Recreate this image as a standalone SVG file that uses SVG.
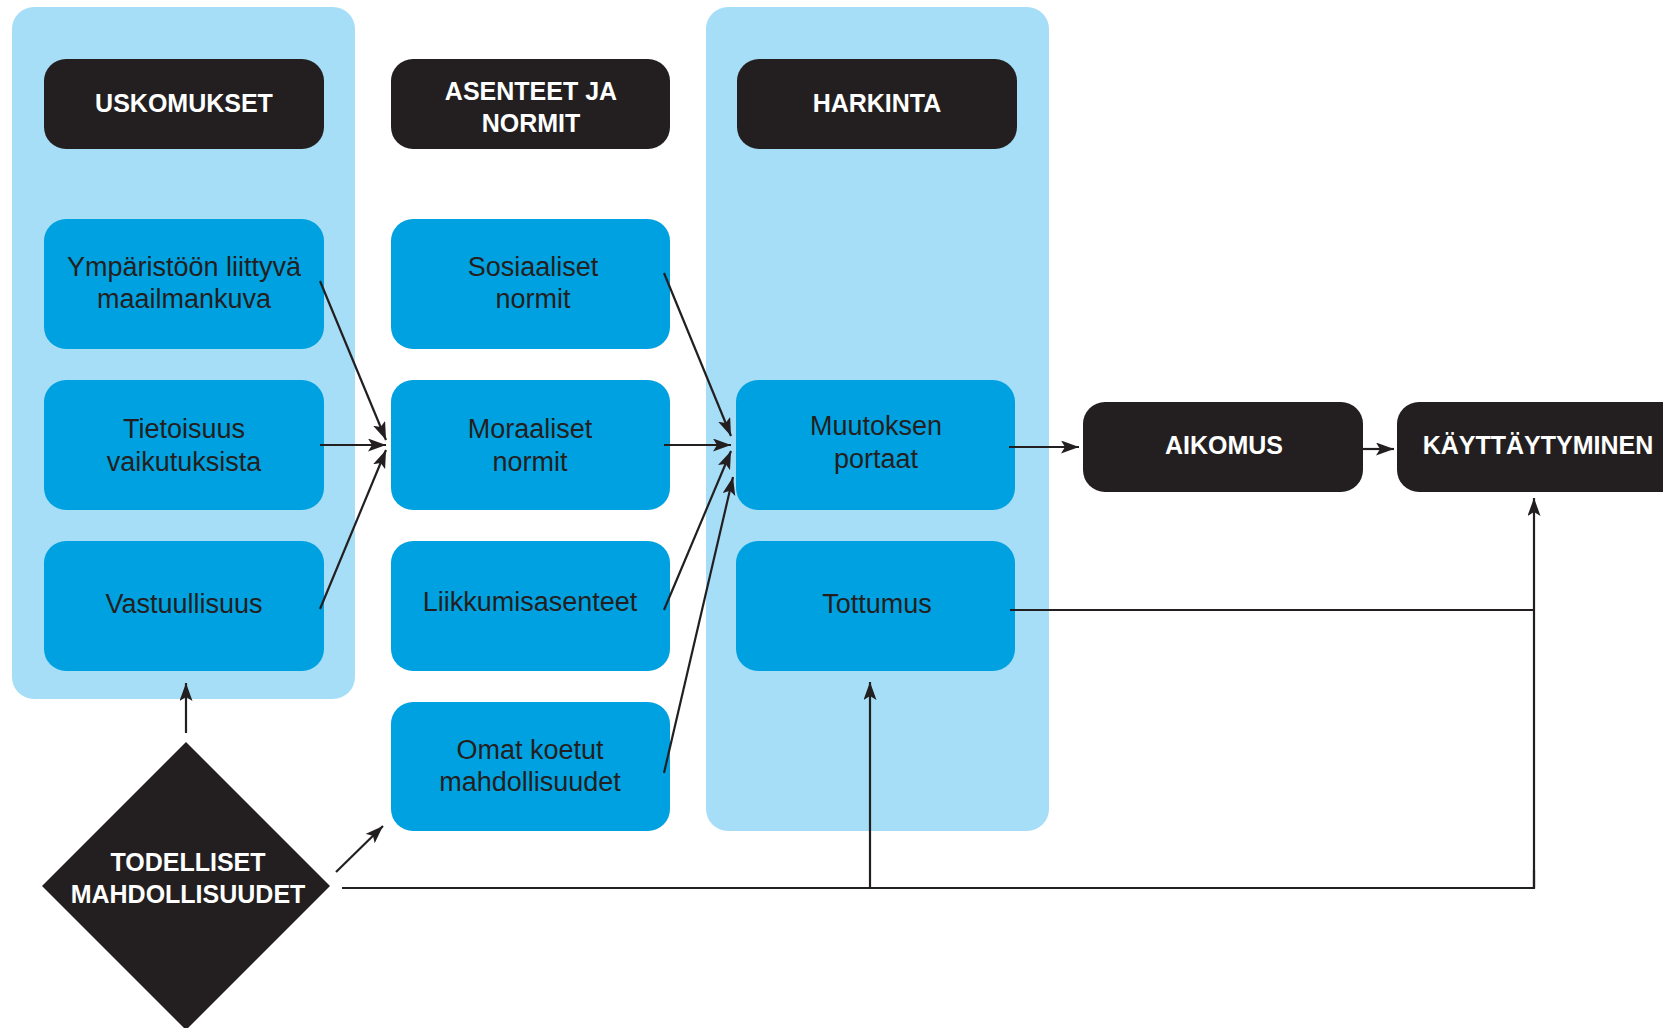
<svg xmlns="http://www.w3.org/2000/svg" width="1663" height="1028" viewBox="0 0 1663 1028">
<defs>
<style>
.panel{fill:#a6def7}
.blue{fill:#00a1e0}
.dark{fill:#231f20}
.ht{font-family:"Liberation Sans",Arial,sans-serif;font-weight:bold;font-size:25px;fill:#ffffff;text-anchor:middle}
.bt{font-family:"Liberation Sans",Arial,sans-serif;font-size:27px;fill:#231f20;text-anchor:middle}
.ln{fill:none;stroke:#231f20;stroke-width:2.2}
.ar{fill:none;stroke:#231f20;stroke-width:2.2;marker-end:url(#ah)}
</style>
<marker id="ah" markerUnits="userSpaceOnUse" markerWidth="20" markerHeight="14" refX="18" refY="6.5" orient="auto">
<path d="M0,0 L18,6.5 L0,13 L4,6.5 z" fill="#231f20"/>
</marker>
</defs>
<rect width="1663" height="1028" fill="#ffffff"/>

<g id="panel-uskomukset"><rect class="panel" x="12" y="7" width="343" height="692" rx="22"/></g>
<g id="panel-harkinta"><rect class="panel" x="706" y="7" width="343" height="824" rx="22"/></g>

<g id="uskomukset"><rect class="dark" x="44" y="59" width="280" height="90" rx="22"/><text class="ht" x="184" y="112">USKOMUKSET</text></g>
<g id="asenteet"><rect class="dark" x="391" y="59" width="279" height="90" rx="22"/><text class="ht" x="531" y="100">ASENTEET JA</text><text class="ht" x="531" y="132">NORMIT</text></g>
<g id="harkinta"><rect class="dark" x="737" y="59" width="280" height="90" rx="22"/><text class="ht" x="877" y="112">HARKINTA</text></g>

<g id="ymparisto"><rect class="blue" x="44" y="219" width="280" height="130" rx="22"/><text class="bt" x="184" y="276">Ympäristöön liittyvä</text><text class="bt" x="184" y="308">maailmankuva</text></g>
<g id="tietoisuus"><rect class="blue" x="44" y="380" width="280" height="130" rx="22"/><text class="bt" x="184" y="438">Tietoisuus</text><text class="bt" x="184" y="471">vaikutuksista</text></g>
<g id="vastuullisuus"><rect class="blue" x="44" y="541" width="280" height="130" rx="22"/><text class="bt" x="184" y="613">Vastuullisuus</text></g>

<g id="sosiaaliset"><rect class="blue" x="391" y="219" width="279" height="130" rx="22"/><text class="bt" x="533" y="276">Sosiaaliset</text><text class="bt" x="533" y="308">normit</text></g>
<g id="moraaliset"><rect class="blue" x="391" y="380" width="279" height="130" rx="22"/><text class="bt" x="530" y="438">Moraaliset</text><text class="bt" x="530" y="471">normit</text></g>
<g id="liikkumisasenteet"><rect class="blue" x="391" y="541" width="279" height="130" rx="22"/><text class="bt" x="530" y="611">Liikkumisasenteet</text></g>
<g id="omat"><rect class="blue" x="391" y="702" width="279" height="129" rx="22"/><text class="bt" x="530" y="759">Omat koetut</text><text class="bt" x="530" y="791">mahdollisuudet</text></g>

<g id="muutoksen"><rect class="blue" x="736" y="380" width="279" height="130" rx="22"/><text class="bt" x="876" y="435">Muutoksen</text><text class="bt" x="876" y="468">portaat</text></g>
<g id="tottumus"><rect class="blue" x="736" y="541" width="279" height="130" rx="22"/><text class="bt" x="877" y="613">Tottumus</text></g>

<g id="aikomus"><rect class="dark" x="1083" y="402" width="280" height="90" rx="22"/><text class="ht" x="1224" y="454">AIKOMUS</text></g>
<g id="kayttaytyminen"><rect class="dark" x="1397" y="402" width="300" height="90" rx="22"/><text class="ht" x="1538" y="454">KÄYTTÄYTYMINEN</text></g>

<g id="todelliset"><polygon class="dark" points="186,742 330,886 186,1030 42,886"/><text class="ht" x="188" y="871">TODELLISET</text><text class="ht" x="188" y="903">MAHDOLLISUUDET</text></g>

<g id="connectors">
<line class="ar" x1="320" y1="281" x2="386" y2="440"/>
<line class="ar" x1="320" y1="445" x2="386" y2="445"/>
<line class="ar" x1="320" y1="609" x2="386" y2="450"/>
<line class="ar" x1="664" y1="273" x2="731" y2="436"/>
<line class="ar" x1="664" y1="445" x2="731" y2="445"/>
<line class="ar" x1="664" y1="610" x2="731" y2="451"/>
<line class="ar" x1="664" y1="773" x2="733" y2="477"/>
<line class="ar" x1="1009" y1="447" x2="1079" y2="447"/>
<line class="ar" x1="1363" y1="449" x2="1394" y2="449"/>
<polyline class="ln" points="1010,610 1534,610"/>
<polyline class="ln" points="342,888 1534,888 1534,870"/>
<line class="ar" x1="1534" y1="888" x2="1534" y2="498"/>
<line class="ar" x1="870" y1="888" x2="870" y2="682"/>
<line class="ar" x1="186" y1="733" x2="186" y2="683"/>
<line class="ar" x1="336" y1="872" x2="383" y2="826"/>
</g>
</svg>
